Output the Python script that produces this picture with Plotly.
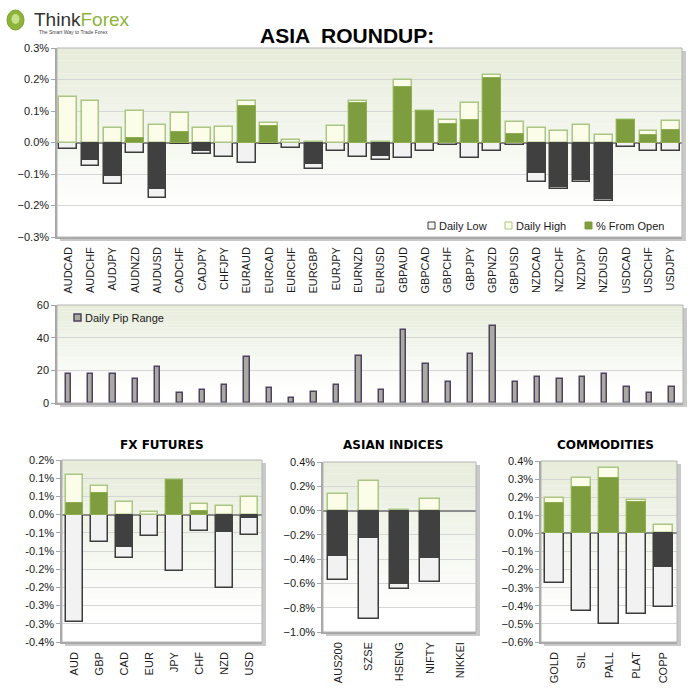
import plotly.graph_objects as go

W, H = 691, 688

# ---------------- data ----------------
pairs = ["AUDCAD", "AUDCHF", "AUDJPY", "AUDNZD", "AUDUSD", "CADCHF", "CADJPY", "CHFJPY",
         "EURAUD", "EURCAD", "EURCHF", "EURGBP", "EURJPY", "EURNZD", "EURUSD", "GBPAUD",
         "GBPCAD", "GBPCHF", "GBPJPY", "GBPNZD", "GBPUSD", "NZDCAD", "NZDCHF", "NZDJPY",
         "NZDUSD", "USDCAD", "USDCHF", "USDJPY"]
daily_high = [0.146, 0.133, 0.047, 0.099, 0.056, 0.093, 0.047, 0.050,
              0.132, 0.061, 0.009, 0.002, 0.053, 0.133, 0.002, 0.199,
              0.099, 0.070, 0.126, 0.214, 0.064, 0.047, 0.037, 0.056,
              0.023, 0.073, 0.035, 0.067]
daily_low = [-0.021, -0.076, -0.133, -0.032, -0.177, -0.005, -0.035, -0.045,
             -0.064, -0.006, -0.017, -0.084, -0.027, -0.046, -0.056, -0.048,
             -0.028, -0.009, -0.048, -0.027, -0.009, -0.126, -0.149, -0.126,
             -0.187, -0.014, -0.027, -0.027]
from_open = [0.0, -0.056, -0.107, 0.015, -0.147, 0.032, -0.028, 0.0,
             0.117, 0.052, 0.0, -0.067, 0.0, 0.127, -0.044, 0.176,
             0.099, 0.058, 0.071, 0.204, 0.026, -0.096, -0.141, -0.118,
             -0.180, 0.073, 0.023, 0.039]
pip_range = [18, 18, 18, 15, 22, 6, 8, 11, 28, 9, 3, 7, 11, 29, 8, 45,
             24, 13, 30, 47, 13, 16, 15, 16, 18, 10, 6, 10]

fx_cats = ["AUD", "GBP", "CAD", "EUR", "JPY", "CHF", "NZD", "USD"]
fx_high = [0.110, 0.079, 0.035, 0.008, 0.094, 0.028, 0.025, 0.048]
fx_low = [-0.295, -0.076, -0.120, -0.059, -0.155, -0.044, -0.203, -0.057]
fx_open = [0.031, 0.059, -0.089, 0.0, 0.094, 0.009, -0.048, -0.008]
fx_tick_vals = [0.15, 0.10, 0.05, 0.0, -0.05, -0.10, -0.15, -0.20, -0.25, -0.30, -0.35]
fx_tick_labels = ["0.2%", "0.1%", "0.1%", "0.0%", "-0.1%", "-0.1%", "-0.2%", "-0.2%",
                  "-0.3%", "-0.3%", "-0.4%"]

asia_cats = ["AUS200", "SZSE", "HSENG", "NIFTY", "NIKKEI"]
asia_high = [0.140, 0.242, 0.008, 0.096, None]
asia_low = [-0.569, -0.896, -0.646, -0.588, None]
asia_open = [-0.376, -0.225, -0.602, -0.387, None]

comm_cats = ["GOLD", "SIL", "PALL", "PLAT", "COPP"]
comm_high = [0.193, 0.305, 0.364, 0.187, 0.045]
comm_low = [-0.273, -0.428, -0.499, -0.447, -0.409]
comm_open = [0.166, 0.254, 0.307, 0.174, -0.185]

legend_labels = ["Daily Low", "Daily High", "% From Open"]
pip_legend_label = "Daily Pip Range"

# ---------------- styles ----------------
FONT = "Liberation Sans, Arial, sans-serif"
GREEN = "#7e9d3e"
GREEN_LINE = "#8fae4f"
DARK = "#404040"
LOW_FILL = "#f2f2f2"
LOW_LINE = "#3c3c3c"
HIGH_FILL = "#fbfde9"
HIGH_LINE = "#abc582"
PIP_FILL = "#a9aba0"
PIP_LINE = "#4e4260"
GRID = "#d6d6d6"
AXIS = "#a6a6a6"


def fx(px):
    return px / W


def fy(py):
    return 1 - py / H


fig = go.Figure()


def add_range_traces(cats, high, low, opn, xa, ya, width):
    fig.add_trace(go.Bar(x=cats, y=low, name=legend_labels[0], width=width,
                         marker=dict(color=LOW_FILL, line=dict(color=LOW_LINE, width=1.5)),
                         xaxis=xa, yaxis=ya, showlegend=False, hoverinfo="skip"))
    fig.add_trace(go.Bar(x=cats, y=high, name=legend_labels[1], width=width,
                         marker=dict(color=HIGH_FILL, line=dict(color=HIGH_LINE, width=1.5)),
                         xaxis=xa, yaxis=ya, showlegend=False, hoverinfo="skip"))
    pos = [v if (v is not None and v > 0) else None for v in opn]
    neg = [v if (v is not None and v < 0) else None for v in opn]
    fig.add_trace(go.Bar(x=cats, y=pos, name=legend_labels[2], width=width,
                         marker=dict(color=GREEN, line=dict(color=GREEN_LINE, width=1)),
                         xaxis=xa, yaxis=ya, showlegend=False, hoverinfo="skip"))
    fig.add_trace(go.Bar(x=cats, y=neg, name=legend_labels[2], width=width,
                         marker=dict(color=DARK, line=dict(color=DARK, width=1)),
                         xaxis=xa, yaxis=ya, showlegend=False, hoverinfo="skip"))


add_range_traces(pairs, daily_high, daily_low, from_open, "x", "y", 0.8)
fig.add_trace(go.Bar(x=pairs, y=pip_range, name=pip_legend_label, width=0.24,
                     marker=dict(color=PIP_FILL, line=dict(color=PIP_LINE, width=1.5)),
                     xaxis="x2", yaxis="y2", showlegend=False, hoverinfo="skip"))
add_range_traces(fx_cats, fx_high, fx_low, fx_open, "x3", "y3", 0.66)
add_range_traces(asia_cats, asia_high, asia_low, asia_open, "x4", "y4", 0.65)
add_range_traces(comm_cats, comm_high, comm_low, comm_open, "x5", "y5", 0.7)

# ---------------- axes ----------------
boxes = {
    1: (57, 682, 48, 237),
    2: (57, 683, 305, 403),
    3: (62, 262, 460, 642),
    4: (323, 476, 462, 632),
    5: (541, 677, 461, 642),
}

tickfont = dict(family=FONT, size=11, color="#1a1a1a")


def xaxis_cfg(i, showlabels=True):
    x0, x1, y0, y1 = boxes[i]
    return dict(domain=[fx(x0), fx(x1)], anchor="y" if i == 1 else f"y{i}",
                showline=True, linecolor=AXIS, linewidth=1.5, showgrid=False,
                ticks="", tickangle=-90, tickfont=tickfont, showticklabels=showlabels,
                zeroline=False, fixedrange=True, ticklabelstandoff=4, automargin=False)


def yaxis_cfg(i, rng, **kw):
    x0, x1, y0, y1 = boxes[i]
    d = dict(domain=[fy(y1), fy(y0)], anchor="x" if i == 1 else f"x{i}", range=rng,
             showline=True, linecolor=AXIS, linewidth=1.5, showgrid=True,
             gridcolor=GRID, gridwidth=1, ticks="outside", ticklen=4, tickcolor=AXIS,
             tickfont=tickfont, zeroline=True, zerolinecolor="#8c8c8c", zerolinewidth=1.5,
             fixedrange=True, automargin=False)
    d.update(kw)
    return d


fig.update_layout(
    xaxis=xaxis_cfg(1),
    yaxis=yaxis_cfg(1, [-0.3, 0.3], dtick=0.1, tick0=0, tickformat=".1f", ticksuffix="%"),
    xaxis2=xaxis_cfg(2, showlabels=False),
    yaxis2=yaxis_cfg(2, [0, 60], dtick=20, tick0=0, zeroline=False),
    xaxis3=xaxis_cfg(3),
    yaxis3=yaxis_cfg(3, [-0.35, 0.15], tickmode="array", tickvals=fx_tick_vals,
                     ticktext=fx_tick_labels),
    xaxis4=xaxis_cfg(4),
    yaxis4=yaxis_cfg(4, [-1.0, 0.4], dtick=0.2, tick0=0, tickformat=".1f", ticksuffix="%"),
    xaxis5=xaxis_cfg(5),
    yaxis5=yaxis_cfg(5, [-0.6, 0.4], dtick=0.1, tick0=0, tickformat=".1f", ticksuffix="%"),
)
fig.update_layout(xaxis2=dict(range=[-0.5, 27.5]), xaxis=dict(range=[-0.5, 27.5]))

# ---------------- backgrounds (shadow + gradient) ----------------
shapes = []
TOP = (231, 236, 219)
N = 30
for i, (x0, x1, y0, y1) in boxes.items():
    shapes.append(dict(type="rect", xref="paper", yref="paper", layer="below",
                       x0=fx(x0 + 3), x1=fx(x1 + 4), y0=fy(y1 + 4), y1=fy(y0 + 3),
                       fillcolor="#c9c9c9", line=dict(width=0)))
    shapes.append(dict(type="rect", xref="paper", yref="paper", layer="below",
                       x0=fx(x0), x1=fx(x1), y0=fy(y1), y1=fy(y0),
                       fillcolor="white", line=dict(width=0)))
    xr = "x domain" if i == 1 else f"x{i} domain"
    yr = "y domain" if i == 1 else f"y{i} domain"
    for k in range(N):
        t = k / (N - 1)
        c = tuple(int(round(TOP[j] + (255 - TOP[j]) * min(1.0, t * 1.15))) for j in range(3))
        shapes.append(dict(type="rect", xref=xr, yref=yr, layer="below",
                           x0=0, x1=1, y0=1 - (k + 1) / N, y1=1 - k / N,
                           fillcolor="rgb(%d,%d,%d)" % c, line=dict(width=0)))
    shapes.append(dict(type="rect", xref=xr, yref=yr, layer="above",
                       x0=0, x1=1, y0=0, y1=1, fillcolor="rgba(0,0,0,0)",
                       line=dict(color="#b4b4b4", width=1)))

# custom legend boxes (small squares as in the reference)
ann = []
legend_items = [(legend_labels[0], 428, LOW_FILL, LOW_LINE),
                (legend_labels[1], 505, HIGH_FILL, HIGH_LINE),
                (legend_labels[2], 585, GREEN, GREEN)]
for label, lx, fill, line in legend_items:
    shapes.append(dict(type="rect", xref="paper", yref="paper",
                       x0=fx(lx), x1=fx(lx + 7), y0=fy(229), y1=fy(222),
                       fillcolor=fill, line=dict(color=line, width=1)))
    ann.append(dict(text=label, x=fx(lx + 9), y=fy(225.5), xref="paper", yref="paper",
                    showarrow=False, xanchor="left", yanchor="middle",
                    font=dict(family=FONT, size=11, color="#1a1a1a")))
shapes.append(dict(type="rect", xref="paper", yref="paper",
                   x0=fx(74), x1=fx(81), y0=fy(321), y1=fy(314),
                   fillcolor=PIP_FILL, line=dict(color=PIP_LINE, width=1.5)))
ann.append(dict(text=pip_legend_label, x=fx(83), y=fy(317.5), xref="paper", yref="paper",
                showarrow=False, xanchor="left", yanchor="middle",
                font=dict(family=FONT, size=11, color="#1a1a1a")))

# logo circle
shapes.append(dict(type="circle", xref="paper", yref="paper", x0=fx(7), x1=fx(24),
                   y0=fy(30), y1=fy(10), fillcolor="#8db33a", line=dict(color="#7aa02c", width=1)))
shapes.append(dict(type="circle", xref="paper", yref="paper", x0=fx(11.5), x1=fx(19.5),
                   y0=fy(24), y1=fy(14), fillcolor="#c9e08a", line=dict(width=0)))
fig.update_layout(shapes=shapes)

# ---------------- annotations ----------------
ann.append(dict(text="<b>ASIA  ROUNDUP:</b>", x=fx(347), y=fy(36), xref="paper", yref="paper",
                showarrow=False, xanchor="center", yanchor="middle",
                font=dict(family="Liberation Sans Narrow, Arial Narrow, Liberation Sans",
                          size=21, color="black")))
for title, cx in [("FX FUTURES", 162), ("ASIAN INDICES", 393), ("COMMODITIES", 605)]:
    ann.append(dict(text="<b>%s</b>" % title, x=fx(cx), y=fy(445), xref="paper", yref="paper",
                    showarrow=False, xanchor="center", yanchor="middle",
                    font=dict(family="DejaVu Sans", size=12, color="black")))
ann.append(dict(text="Think<span style='color:#8db33a'>Forex</span>", x=fx(32), y=fy(19),
                xref="paper", yref="paper", showarrow=False, xanchor="left", yanchor="middle",
                font=dict(family="Liberation Sans", size=19, color="#333333")))
ann.append(dict(text="The Smart Way to Trade Forex", x=fx(37), y=fy(32), xref="paper",
                yref="paper", showarrow=False, xanchor="left", yanchor="middle",
                font=dict(family="Liberation Sans", size=5, color="#444444")))
fig.update_layout(annotations=ann)

fig.update_layout(
    width=W, height=H, margin=dict(l=0, r=0, t=0, b=0, autoexpand=False),
    paper_bgcolor="white", plot_bgcolor="rgba(0,0,0,0)",
    barmode="overlay", bargap=0, showlegend=False,
    font=dict(family=FONT, size=11, color="#1a1a1a"),
)

fig.write_html(
    "out.html",
    config={"displayModeBar": False},
    post_script="document.body.style.margin='0px';document.body.style.padding='0px';"
                "document.documentElement.style.overflow='hidden';",
)
